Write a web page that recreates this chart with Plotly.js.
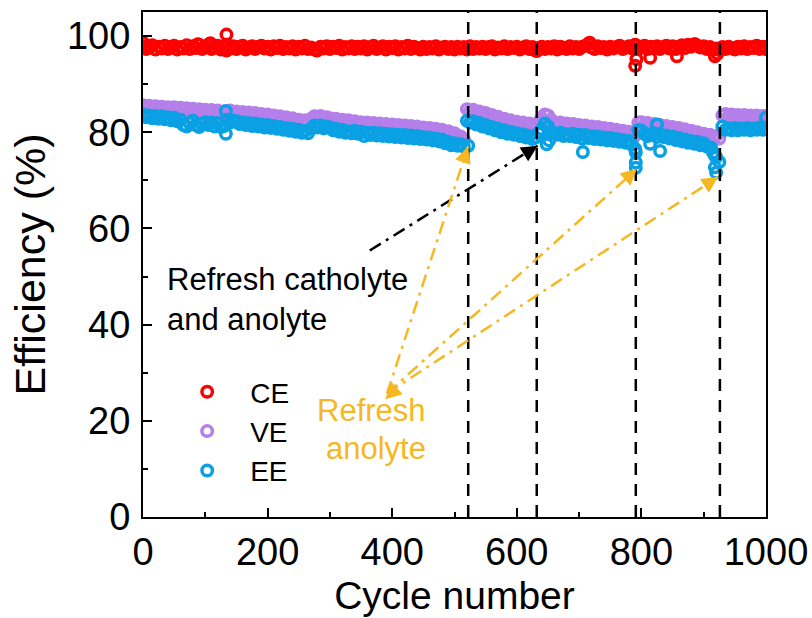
<!DOCTYPE html>
<html>
<head>
<meta charset="utf-8">
<script src="https://cdn.plot.ly/plotly-3.0.1.min.js"></script>
<style>html,body{margin:0;padding:0;background:#fff;}#chart{width:812px;height:618px;}</style>
</head>
<body>
<div id="chart"></div>
<script>
// cycle number of each sampled point (every 5 cycles, 0..1000)
var cycleStep = 5;

var ceValues = [
97.9,97.3,97.6,98.1,97.2,97.8,97.4,98.0,97.3,97.7,
98.0,97.2,97.7,97.4,98.1,97.3,97.9,97.5,98.2,97.3,
97.8,98.2,97.3,97.6,98.0,97.2,97.7,98.2,97.4,97.9,
97.3,97.8,98.0,97.2,97.6,97.9,97.3,97.7,98.0,97.4,
97.8,97.2,97.9,97.5,98.0,97.3,97.7,97.4,97.9,97.2,
97.8,97.4,98.0,97.3,97.6,97.2,97.1,97.8,97.4,97.9,
97.3,97.8,97.5,98.0,97.2,97.7,97.4,97.9,97.3,97.8,
97.4,97.9,97.2,97.7,98.0,97.3,97.6,97.9,97.2,97.8,
97.5,97.9,97.2,97.7,97.4,98.0,97.3,97.8,97.5,97.2,
97.8,97.3,97.7,97.4,97.9,97.2,97.6,97.8,97.3,97.7,
97.2,97.8,97.4,97.7,97.2,97.9,97.3,97.7,97.4,97.8,
97.3,97.7,97.9,97.2,97.6,97.4,97.9,97.3,97.7,97.5,
97.8,97.2,97.6,97.9,97.3,97.7,97.0,97.5,97.8,97.3,
97.7,97.4,97.9,97.2,97.8,97.5,97.3,97.9,97.4,97.7,
97.3,97.8,98.0,98.4,97.6,97.3,97.9,97.5,97.7,97.2,
97.8,97.4,97.7,98.0,97.3,97.6,97.9,97.4,98.1,97.3,
97.7,98.0,97.3,97.8,97.5,97.9,97.3,97.7,98.0,97.4,
97.9,97.3,97.8,98.1,97.5,98.2,97.8,98.3,98.0,97.6,
97.9,97.3,97.7,97.2,97.4,97.1,97.7,97.3,97.8,97.5,
97.2,97.8,97.4,97.9,97.3,97.7,97.5,98.0,97.3,97.8,
97.5
];

var veValues = [
85.6,85.1,85.5,85.0,85.4,84.9,85.3,85.0,85.2,84.8,
85.2,84.7,85.1,84.6,85.0,84.5,84.9,84.4,84.8,84.3,
84.7,84.3,84.6,84.0,84.5,83.9,84.3,84.0,84.5,83.9,
84.3,83.8,84.2,83.7,84.1,83.6,84.0,83.5,83.8,83.4,
83.7,83.2,83.5,83.0,83.3,82.8,83.1,82.6,82.9,82.5,
82.6,82.1,82.5,82.0,82.8,83.3,83.0,83.4,82.8,83.1,
82.9,82.5,82.8,82.3,82.6,82.2,82.5,82.0,82.3,81.9,
82.1,81.7,82.0,81.6,81.9,81.5,81.8,81.4,81.7,81.3,
81.6,81.2,81.5,81.1,81.4,81.0,81.3,80.8,81.2,80.7,
81.0,80.6,80.9,80.4,80.7,80.2,80.5,80.0,80.2,79.7,
79.8,79.2,79.1,78.5,84.8,84.4,84.7,84.1,84.3,83.7,
84.0,83.4,83.6,83.0,83.2,82.6,82.8,82.3,82.5,82.0,
82.2,81.8,82.0,81.5,81.8,81.4,81.6,82.1,82.9,83.7,
83.5,82.6,82.1,81.7,82.0,81.5,81.8,81.4,81.7,81.2,
81.5,81.1,81.4,80.9,81.2,80.8,81.1,80.6,80.9,80.4,
80.7,80.2,80.5,80.0,80.3,79.8,80.1,79.5,79.3,82.0,
82.1,81.6,81.9,81.4,81.7,81.2,81.5,81.0,81.3,80.8,
81.1,80.6,80.9,80.3,80.6,80.1,80.3,79.8,80.0,79.4,
79.7,79.2,79.5,79.0,79.2,78.7,83.5,83.8,83.3,83.7,
83.3,83.6,83.2,83.6,83.2,83.5,83.1,83.5,83.1,83.4,
83.3
];

var eeValues = [
83.7,83.1,83.5,82.9,83.4,82.8,83.3,82.7,83.1,82.5,
83.0,82.3,82.6,81.5,81.2,81.9,82.4,81.5,81.1,81.7,
82.1,81.5,82.0,81.2,81.9,81.1,81.3,82.6,82.0,82.4,
82.3,81.7,82.1,81.5,81.9,81.3,81.8,81.2,81.6,81.0,
81.5,80.9,81.3,80.7,81.1,80.5,80.9,80.3,80.7,80.1,
80.5,79.9,80.3,79.8,80.7,81.4,81.0,81.4,80.8,81.2,
81.0,80.4,80.7,80.1,80.5,79.9,80.2,79.8,80.3,79.7,
80.1,79.2,79.9,79.4,79.9,79.3,79.8,79.2,79.7,79.1,
79.6,79.0,79.5,78.9,79.4,78.8,79.3,78.7,79.2,78.6,
79.0,78.5,78.9,78.3,78.7,78.1,78.5,77.7,78.0,77.3,
77.7,77.2,77.5,77.0,82.4,82.0,82.3,81.6,81.9,81.2,
81.5,80.8,81.1,80.4,80.7,80.0,80.4,79.7,80.1,79.5,
79.8,79.2,79.6,78.9,79.2,78.6,78.9,79.8,80.6,81.8,
81.2,79.8,79.8,79.5,79.9,79.2,79.6,79.2,79.7,79.0,
79.5,78.7,79.4,78.8,79.2,78.6,79.1,78.5,78.9,78.3,
78.8,78.2,78.6,78.0,78.4,77.8,78.2,77.4,76.5,80.4,
80.3,79.7,79.2,79.6,79.8,79.0,79.6,79.0,79.3,78.7,
79.1,78.4,78.8,78.1,78.5,77.8,78.2,77.6,78.0,77.3,
77.7,77.0,76.8,75.8,74.8,73.8,81.2,80.5,80.8,80.4,
80.9,80.4,80.8,80.5,80.9,80.4,80.8,80.5,81.0,80.5,
80.8
];

// scattered individual points
var ceExtraCycles = [0, 88, 108, 134, 134, 279, 632, 717, 790, 790, 792, 814, 857, 886, 918, 922, 1000];
var ceExtraValues = [98.6, 98.3, 98.5, 100.3, 97.0, 97.0, 96.9, 98.6, 98.2, 93.8, 95.2, 95.5, 95.8, 98.3, 95.8, 96.3, 97.3];
var eeExtraCycles = [133, 133, 522, 648, 652, 706, 791, 791, 791, 814, 825, 830, 912, 918, 918, 920, 1000, 1000];
var eeExtraValues = [84.4, 79.7, 77.2, 77.5, 78.3, 75.9, 75.8, 73.7, 72.6, 77.6, 81.6, 76.1, 76.8, 75.1, 72.7, 71.6, 80.7, 83.0];

var refreshCycles = [522, 632, 791, 926];

var seriesNames = ['CE', 'VE', 'EE'];
var seriesColors = ['#FF0000', '#B57FEA', '#0AA0E4'];
var xTickVals = [0, 200, 400, 600, 800, 1000];
var yTickVals = [0, 20, 40, 60, 80, 100];

function cycles(n) { var c = []; for (var i = 0; i < n; i++) c.push(i * cycleStep); return c; }

var baseCycles = cycles(ceValues.length);

function trace(i, xs, ys) {
  return {
    type: 'scatter', mode: 'markers', name: seriesNames[i], legendgroup: seriesNames[i],
    x: xs, y: ys,
    marker: {symbol: 'circle-open', size: 10.5, color: seriesColors[i], line: {width: 3.5, color: seriesColors[i]}},
    hoverinfo: 'skip'
  };
}

var data = [
  trace(0, baseCycles.concat(ceExtraCycles), ceValues.concat(ceExtraValues)),
  trace(1, baseCycles, veValues),
  trace(2, baseCycles.concat(eeExtraCycles), eeValues.concat(eeExtraValues))
];

var FONT = 'Liberation Sans, Arial, sans-serif';
var orange = '#F5B722';
var shapes = refreshCycles.map(function (c) {
  return {type: 'line', xref: 'x', yref: 'paper', x0: c, x1: c, y0: 0, y1: 1,
          line: {color: '#000', width: 2.5, dash: '12px,9px'}, layer: 'above'};
});

// arrows
var blackArrow = [364, 55.4, 633.5, 77.2];
var orangeVertex = [391.7, 25.7];
var orangeTips = [[521.7, 77.0], [793, 72.4], [923, 70.7]];

var annotations = [];
var pxPerX = 623 / 1000, pxPerY = 505 / 105;
function addArrow(x0, y0, x1, y1, color) {
  shapes.push({type: 'line', xref: 'x', yref: 'y', x0: x0, y0: y0, x1: x1, y1: y1,
               line: {color: color, width: 2.5, dash: '13px,6px,3px,6px'}, layer: 'above'});
  var dx = (x1 - x0) * pxPerX, dy = -(y1 - y0) * pxPerY;
  var L = Math.sqrt(dx * dx + dy * dy), len = 14;
  annotations.push({x: x1, y: y1, xref: 'x', yref: 'y', text: '', showarrow: true,
    ax: -dx / L * len, ay: -dy / L * len, arrowhead: 2, arrowsize: 1.3, arrowwidth: 2.5,
    arrowcolor: color, standoff: 0});
}
addArrow(blackArrow[0], blackArrow[1], blackArrow[2], blackArrow[3], '#000');
orangeTips.forEach(function (t) { addArrow(orangeVertex[0], orangeVertex[1], t[0], t[1], orange); });
// arrowhead at the converging point
(function () {
  var t = orangeTips[1];
  var dx = (orangeVertex[0] - t[0]) * pxPerX, dy = -(orangeVertex[1] - t[1]) * pxPerY;
  var L = Math.sqrt(dx * dx + dy * dy), len = 14;
  annotations.push({x: orangeVertex[0] - 3, y: orangeVertex[1] - 1.2, xref: 'x', yref: 'y', text: '', showarrow: true,
    ax: -dx / L * len, ay: -dy / L * len, arrowhead: 2, arrowsize: 1.3, arrowwidth: 2.5,
    arrowcolor: orange, standoff: 0});
})();

var txtFont = {family: FONT, size: 31, color: '#000'};
annotations.push({x: 35, y: 49.3, xref: 'x', yref: 'y', xanchor: 'left', yanchor: 'middle',
  text: 'Refresh catholyte', showarrow: false, font: txtFont});
annotations.push({x: 35, y: 41.0, xref: 'x', yref: 'y', xanchor: 'left', yanchor: 'middle',
  text: 'and anolyte', showarrow: false, font: txtFont});
var oFont = {family: FONT, size: 31, color: orange};
annotations.push({x: 367, y: 22.2, xref: 'x', yref: 'y', xanchor: 'center', yanchor: 'middle',
  text: 'Refresh', showarrow: false, font: oFont});
annotations.push({x: 374, y: 14.3, xref: 'x', yref: 'y', xanchor: 'center', yanchor: 'middle',
  text: 'anolyte', showarrow: false, font: oFont});

var axisCommon = {
  showgrid: false, zeroline: false, showline: true, linecolor: '#000', linewidth: 2, mirror: true,
  ticks: 'inside', ticklen: 9, tickwidth: 2, tickcolor: '#000',
  tickfont: {family: FONT, size: 38, color: '#000'}
};

var layout = {
  width: 812, height: 618,
  margin: {l: 143, r: 46, t: 12, b: 101},
  paper_bgcolor: '#fff', plot_bgcolor: '#fff',
  showlegend: true,
  legend: {x: 0.034, y: 0.297, xanchor: 'left', yanchor: 'top', bgcolor: 'rgba(0,0,0,0)',
           font: {family: FONT, size: 28, color: '#000'},
           itemwidth: 76, tracegroupgap: 0, traceorder: 'grouped'},
  xaxis: Object.assign({}, axisCommon, {range: [0, 1000], tickvals: xTickVals,
    minor: {dtick: 100, ticks: 'inside', ticklen: 5, tickwidth: 2, tickcolor: '#000'},
    title: {text: 'Cycle number', font: {family: FONT, size: 39, color: '#000'}, standoff: 10}}),
  yaxis: Object.assign({}, axisCommon, {range: [0, 105], tickvals: yTickVals, ticklabelstandoff: 3,
    minor: {dtick: 10, ticks: 'inside', ticklen: 5, tickwidth: 2, tickcolor: '#000'},
    title: {text: 'Efficiency (%)', font: {family: FONT, size: 43, color: '#000'}, standoff: 8}}),
  shapes: shapes,
  annotations: annotations
};

Plotly.newPlot('chart', data, layout, {displayModeBar: false, staticPlot: true});
</script>
</body>
</html>
